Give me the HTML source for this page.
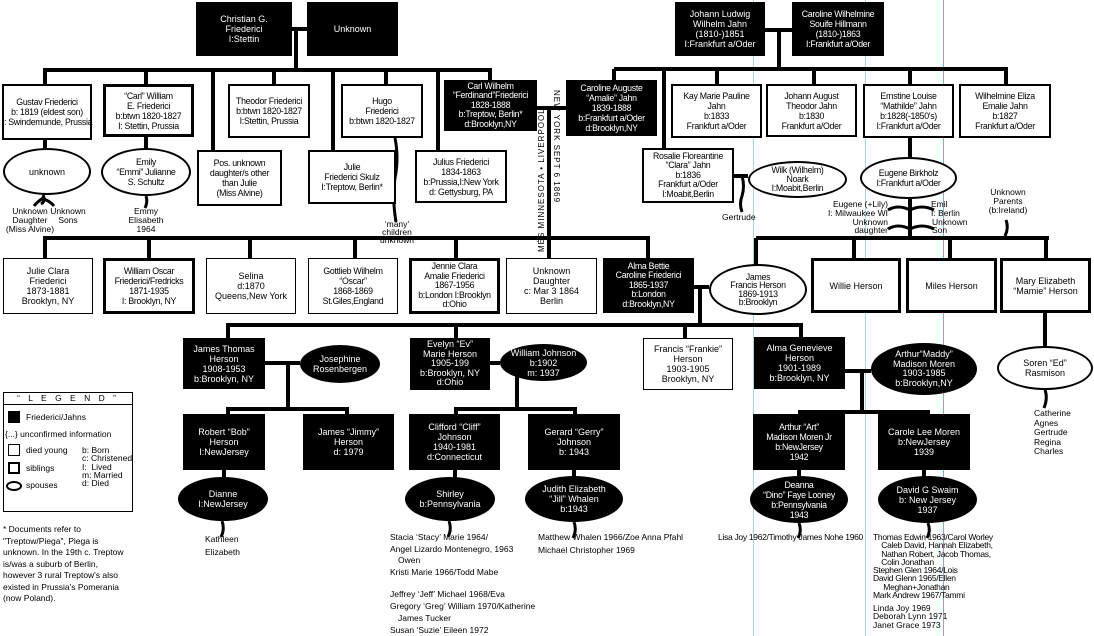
<!DOCTYPE html>
<html><head><meta charset="utf-8"><style>
body{margin:0;background:#fff;}
#c{position:relative;width:1094px;height:636px;overflow:hidden;background:#fff;font-family:"Liberation Sans Narrow","Liberation Sans",sans-serif;font-size:9px;line-height:10px;color:#000;}
#c div{position:absolute;box-sizing:border-box;}
.b,.bt,.k,.e,.ek,.bn{display:flex;align-items:center;justify-content:center;text-align:center;white-space:nowrap;}
.b{border:2px solid #000;background:#fff;}
.bn{border:1px solid #000;background:#fff;}
.bt{border:3px solid #000;background:#fff;}
.k{background:#000;color:#fff;}
.e{border:2px solid #000;border-radius:50%;background:#fff;}
.ek{background:#000;color:#fff;border-radius:50%;}
.n{letter-spacing:-0.3px;font-size:8.8px;}
.t{white-space:nowrap;font-size:8.5px;line-height:9px;}
.tc{white-space:nowrap;font-size:8.5px;line-height:9px;text-align:center;}
svg{position:absolute;left:0;top:0;}
</style></head><body><div id="c">
<svg width="1094" height="636">
<g stroke="#a8d8d8" stroke-width="1"><line x1="753.5" y1="0" x2="753.5" y2="636"/><line x1="865.5" y1="0" x2="865.5" y2="636"/></g>
<line x1="943.5" y1="0" x2="943.5" y2="636" stroke="#00e8ee" stroke-width="1"/>
<g stroke="#000" stroke-width="4" fill="none">
<path d="M292 29H307M296 29V70M43 70H492"/>
<path d="M45 70V84M146 70V84M213 70V150M274 70V84M333 70V150M386 70V84M438 70V150M490 70V84"/>
<path d="M45 140V148M146 137V148"/>
<path d="M537 108H567M549 108V238"/>
<path d="M765 30H792M779 30V69M614 69H1008"/>
<path d="M614 69V84M664 69V148M717 69V84M814 69V84M910 69V84M1006 69V84"/>
<path d="M734 176H748M910 138V157M910 199V238"/>
<path d="M43 238H650M45 238V258M149 238V258M250 238V258M355 238V258M456 238V258M549 238V258M648 238V258"/>
<path d="M756 238H1049M756 238V265M854 238V258M950 238V258M1046 238V258"/>
<path d="M694 287H709M700 287V325M226 325H803"/>
<path d="M228 325V338M456 325V338M685 325V338M801 325V338M1045 313V346"/>
<path d="M264 363H300M288 363V409M226 409H349M228 409V414M347 409V414"/>
<path d="M490 363H500M517 363V409M454 409H577M456 409V414M575 409V414"/>
<path d="M845 371H871M862 371V412M798 412H930M800 412V414M928 412V414"/>
<path d="M224 470V478M455 470V478M574 470V478M799 470V478M924 470V478"/>
</g>
<g stroke="#000" stroke-width="3" fill="none">
<path d="M43 195q3 6-2 9M43 198q-6 4-9 8M44 199q7 3 10 7"/>
<path d="M146 196q2 6-1 12"/>
<path d="M395 138q4 20 0 40q-3 20 1 44"/>
<path d="M742 176q3 10 0 20q-3 8 0 16"/>
<path d="M910 210q-12-6-22 0M910 210q12 -6 24 0M910 229q-12-6-22 0M910 229q12-6 24 0"/>
<path d="M1006 220q3 8 -1 16"/>
<path d="M1045 390q3 8-1 18"/>
<path d="M222 521q3 8-1 16M449 521q3 8-1 16M574 522q3 8-1 16M799 523q3 8-1 15M928 523q3 8-1 15"/>
</g>
</svg>

<div class="k" style="left:196px;top:2px;width:96px;height:54px">Christian G.<br>Friederici<br>I:Stettin</div>
<div class="k" style="left:307px;top:2px;width:91px;height:54px">Unknown</div>
<div class="b n" style="left:2px;top:84px;width:90px;height:56px">Gustav Friederici<br>b: 1819 (eldest son)<br>I: Swindemunde, Prussia</div>
<div class="bt n" style="left:103px;top:84px;width:91px;height:53px">“Carl” William<br>E. Friederici<br>b:btwn 1820-1827<br>I: Stettin, Prussia</div>
<div class="b n" style="left:228px;top:84px;width:82px;height:54px">Theodor Friederici<br>b:btwn 1820-1827<br>I:Stettin, Prussia</div>
<div class="b n" style="left:341px;top:84px;width:82px;height:54px">Hugo<br>Friederici<br>b:btwn 1820-1827</div>
<div class="k n" style="left:444px;top:80px;width:93px;height:51px;line-height:9.5px">Carl Wilhelm<br>“Ferdinand”Friederici<br>1828-1888<br>b:Treptow, Berlin*<br>d:Brooklyn,NY</div>
<div class="b n" style="left:197px;top:150px;width:85px;height:56px">Pos. unknown<br>daughter/s other<br>than Julie<br>(Miss Alvine)</div>
<div class="b n" style="left:308px;top:150px;width:88px;height:54px">Julie<br>Friederici Skulz<br>I:Treptow, Berlin*</div>
<div class="b n" style="left:415px;top:150px;width:92px;height:53px">Julius Friederici<br>1834-1863<br>b:Prussia,I:New York<br>d: Gettysburg, PA</div>
<div class="e" style="left:3px;top:148px;width:88px;height:47px">unknown</div>
<div class="e n" style="left:101px;top:148px;width:90px;height:48px">Emily<br>“Emmi” Julianne<br>S. Schultz</div>
<div class="tc" style="left:2px;top:207px;width:56px">Unknown<br>Daughter<br>(Miss Alvine)</div>
<div class="tc" style="left:48px;top:207px;width:40px">Unknown<br>Sons</div>
<div class="tc" style="left:120px;top:207px;width:52px">Emmy<br>Elisabeth<br>1964</div>
<div class="tc" style="left:375px;top:220px;width:44px;line-height:8px">‘many’<br>children<br>unknown</div>
<div class="t" style="left:537px;top:252px;transform:rotate(-90deg);transform-origin:0 0;font-size:8px;letter-spacing:1px">MÉS MINNESOTA • LIVERPOOL</div>
<div class="t" style="left:561px;top:90px;transform:rotate(90deg);transform-origin:0 0;font-size:8px;letter-spacing:1px">NEW YORK SEPT 6 1869</div>

<div class="k" style="left:675px;top:2px;width:90px;height:54px">Johann Ludwig<br>Wilhelm Jahn<br>(1810-)1851<br>I:Frankfurt a/Oder</div>
<div class="k n" style="left:792px;top:2px;width:92px;height:54px">Caroline Wilhelmine<br>Souife Hillmann<br>(1810-)1863<br>I:Frankfurt a/Oder</div>
<div class="k n" style="left:566px;top:80px;width:91px;height:56px">Caroline Auguste<br>“Amalie” Jahn<br>1839-1888<br>b:Frankfurt a/Oder<br>d:Brooklyn,NY</div>
<div class="b n" style="left:671px;top:84px;width:91px;height:54px">Kay Marie Pauline<br>Jahn<br>b:1833<br>Frankfurt a/Oder</div>
<div class="b n" style="left:766px;top:84px;width:91px;height:53px">Johann August<br>Theodor Jahn<br>b:1830<br>Frankfurt a/Oder</div>
<div class="b n" style="left:863px;top:84px;width:91px;height:54px">Ernstine Louise<br>“Mathilde” Jahn<br>b:1828(-1850's)<br>I:Frankfurt a/Oder</div>
<div class="b n" style="left:959px;top:84px;width:92px;height:54px">Wilhelmine Eliza<br>Emalie Jahn<br>b:1827<br>Frankfurt a/Oder</div>
<div class="b n" style="left:642px;top:148px;width:92px;height:55px;line-height:9.5px">Rosalie Floreantine<br>“Clara” Jahn<br>b:1836<br>Frankfurt a/Oder<br>I:Moabit,Berlin</div>
<div class="e n" style="left:748px;top:161px;width:99px;height:37px;line-height:9px">Wilk (Wilhelm)<br>Noark<br>I:Moabit,Berlin</div>
<div class="e n" style="left:860px;top:157px;width:97px;height:42px">Eugene Birkholz<br>I:Frankfurt a/Oder</div>
<div class="t" style="left:722px;top:213px">Gertrude</div>
<div class="t" style="left:806px;top:200px;width:82px;text-align:right">Eugene (+Lily)<br>I: Milwaukee WI</div>
<div class="t" style="left:826px;top:218px;width:62px;text-align:right;line-height:8px">Unknown<br>daughter</div>
<div class="t" style="left:931px;top:200px">Emil<br>I: Berlin</div>
<div class="t" style="left:932px;top:218px;line-height:8px">Unknown<br>Son</div>
<div class="tc" style="left:980px;top:188px;width:56px">Unknown<br>Parents<br>(b:Ireland)</div>

<div class="bn" style="left:3px;top:258px;width:90px;height:56px">Julie Clara<br>Friederici<br>1873-1881<br>Brooklyn, NY</div>
<div class="bt n" style="left:103px;top:258px;width:92px;height:56px">William Oscar<br>Friederici/Fredricks<br>1871-1935<br>I: Brooklyn, NY</div>
<div class="bn" style="left:206px;top:258px;width:90px;height:56px">Selina<br>d:1870<br>Queens,New York</div>
<div class="bn n" style="left:308px;top:258px;width:90px;height:56px">Gottlieb Wilhelm<br>“Oscar”<br>1868-1869<br>St.Giles,England</div>
<div class="bt n" style="left:409px;top:258px;width:91px;height:56px;line-height:9.5px">Jennie Clara<br>Amalie Friederici<br>1867-1956<br>b:London I:Brooklyn<br>d:Ohio</div>
<div class="bn" style="left:506px;top:258px;width:91px;height:56px">Unknown<br>Daughter<br>c: Mar 3 1864<br>Berlin</div>
<div class="k n" style="left:603px;top:258px;width:91px;height:55px;line-height:9.5px">Alma Bettie<br>Caroline Friederici<br>1865-1937<br>b:London<br>d:Brooklyn,NY</div>
<div class="e n" style="left:709px;top:264px;width:98px;height:51px;line-height:8.5px">James<br>Francis Herson<br>1869-1913<br>b:Brooklyn</div>
<div class="b" style="left:811px;top:258px;width:90px;height:55px;border-width:3px">Willie Herson</div>
<div class="b" style="left:906px;top:258px;width:91px;height:55px;border-width:3px">Miles Herson</div>
<div class="b" style="left:1000px;top:258px;width:91px;height:55px;border-width:3px">Mary Elizabeth<br>“Mamie” Herson</div>
<div class="e" style="left:997px;top:346px;width:96px;height:44px">Soren “Ed”<br>Rasmison</div>
<div class="t" style="left:1034px;top:409px;line-height:9.5px">Catherine<br>Agnes<br>Gertrude<br>Regina<br>Charles</div>

<div class="k" style="left:183px;top:338px;width:82px;height:51px">James Thomas<br>Herson<br>1908-1953<br>b:Brooklyn, NY</div>
<div class="ek" style="left:300px;top:345px;width:80px;height:38px">Josephine<br>Rosenbergen</div>
<div class="k" style="left:410px;top:338px;width:80px;height:52px;line-height:9.5px">Evelyn “Ev”<br>Marie Herson<br>1905-199<br>b:Brooklyn, NY<br>d:Ohio</div>
<div class="ek" style="left:500px;top:344px;width:87px;height:37px">William Johnson<br>b:1902<br>m: 1937</div>
<div class="bn" style="left:643px;top:338px;width:90px;height:52px">Francis “Frankie”<br>Herson<br>1903-1905<br>Brooklyn, NY</div>
<div class="k" style="left:754px;top:337px;width:91px;height:52px">Alma Genevieve<br>Herson<br>1901-1989<br>b:Brooklyn, NY</div>
<div class="ek" style="left:871px;top:343px;width:106px;height:52px;line-height:9.5px">Arthur“Maddy”<br>Madison Moren<br>1903-1985<br>b:Brooklyn,NY</div>

<div class="k" style="left:183px;top:414px;width:82px;height:56px">Robert “Bob”<br>Herson<br>I:NewJersey</div>
<div class="k" style="left:303px;top:414px;width:91px;height:56px">James “Jimmy”<br>Herson<br>d: 1979</div>
<div class="k" style="left:409px;top:414px;width:91px;height:56px">Clifford “Cliff”<br>Johnson<br>1940-1981<br>d:Connecticut</div>
<div class="k" style="left:528px;top:414px;width:92px;height:56px">Gerard “Gerry”<br>Johnson<br>b: 1943</div>
<div class="k n" style="left:753px;top:414px;width:92px;height:56px">Arthur “Art”<br>Madison Moren Jr<br>b:NewJersey<br>1942</div>
<div class="k" style="left:878px;top:414px;width:92px;height:56px">Carole Lee Moren<br>b:NewJersey<br>1939</div>
<div class="ek" style="left:178px;top:477px;width:90px;height:44px">Dianne<br>I:NewJersey</div>
<div class="ek" style="left:405px;top:477px;width:90px;height:44px">Shirley<br>b:Pennsylvania</div>
<div class="ek" style="left:525px;top:476px;width:98px;height:46px">Judith Elizabeth<br>“Jill” Whalen<br>b:1943</div>
<div class="ek n" style="left:750px;top:476px;width:98px;height:47px">Deanna<br>“Dino” Faye Looney<br>b:Pennsylvania<br>1943</div>
<div class="ek" style="left:878px;top:476px;width:99px;height:47px">David G Swaim<br>b: New Jersey<br>1937</div>

<div class="t" style="left:205px;top:533px;line-height:13px">Kathleen<br>Elizabeth</div>
<div class="t" style="left:390px;top:533px">Stacia ‘Stacy’ Marie 1964/</div>
<div class="t" style="left:390px;top:545px">Angel Lizardo Montenegro, 1963</div>
<div class="t" style="left:398px;top:556px">Owen</div>
<div class="t" style="left:390px;top:568px">Kristi Marie 1966/Todd Mabe</div>
<div class="t" style="left:390px;top:590px">Jeffrey ‘Jeff’ Michael 1968/Eva</div>
<div class="t" style="left:390px;top:602px">Gregory ‘Greg’ William 1970/Katherine</div>
<div class="t" style="left:398px;top:614px">James Tucker</div>
<div class="t" style="left:390px;top:626px">Susan ‘Suzie’ Eileen 1972</div>
<div class="t" style="left:538px;top:533px">Matthew Whalen 1966/Zoe Anna Pfahl</div>
<div class="t" style="left:538px;top:546px">Michael Christopher 1969</div>
<div class="t" style="left:718px;top:533px;letter-spacing:-0.3px">Lisa Joy 1962/Timothy James Nohe 1960</div>
<div class="t" style="left:873px;top:533px;line-height:8.3px;letter-spacing:-0.3px">Thomas Edwin 1963/Carol Worley<br>&nbsp;&nbsp;&nbsp;&nbsp;Caleb David, Hannah Elizabeth,<br>&nbsp;&nbsp;&nbsp;&nbsp;Nathan Robert, Jacob Thomas,<br>&nbsp;&nbsp;&nbsp;&nbsp;Colin Jonathan<br>Stephen Glen 1964/Lois<br>David Glenn 1965/Ellen<br>&nbsp;&nbsp;&nbsp;&nbsp;&nbsp;Meghan+Jonathan<br>Mark Andrew 1967/Tammi</div>
<div class="t" style="left:873px;top:604px;line-height:8.3px">Linda Joy 1969<br>Deborah Lynn 1971<br>Janet Grace 1973</div>

<div style="left:3px;top:392px;width:130px;height:120px;border:1px solid #000"></div>
<div style="left:3px;top:404px;width:130px;height:1px;background:#000"></div>
<div class="tc" style="left:3px;top:394px;width:130px;letter-spacing:3px">“ L E G E N D ”</div>
<div style="left:8px;top:411px;width:12px;height:12px;background:#000"></div>
<div class="t" style="left:26px;top:413px">Friederici/Jahns</div>
<div class="t" style="left:5px;top:430px">{...} unconfirmed information</div>
<div style="left:8px;top:444px;width:12px;height:12px;border:1px solid #000"></div>
<div class="t" style="left:26px;top:446px">died young</div>
<div style="left:8px;top:462px;width:12px;height:12px;border:2px solid #000"></div>
<div class="t" style="left:26px;top:464px">siblings</div>
<div style="left:6px;top:481px;width:16px;height:10px;border:2px solid #000;border-radius:50%"></div>
<div class="t" style="left:26px;top:481px">spouses</div>
<div class="t" style="left:82px;top:446px;line-height:8.3px">b: Born<br>c: Christened<br>I:&nbsp; Lived<br>m: Married<br>d: Died</div>
<div class="t" style="left:3px;top:524px;line-height:11.5px">* Documents refer to<br>"Treptow/Piega", Piega is<br>unknown. In the 19th c. Treptow<br>is/was a suburb of Berlin,<br>however 3 rural Treptow's also<br>existed in Prussia's Pomerania<br>(now Poland).</div>
</div></body></html>
